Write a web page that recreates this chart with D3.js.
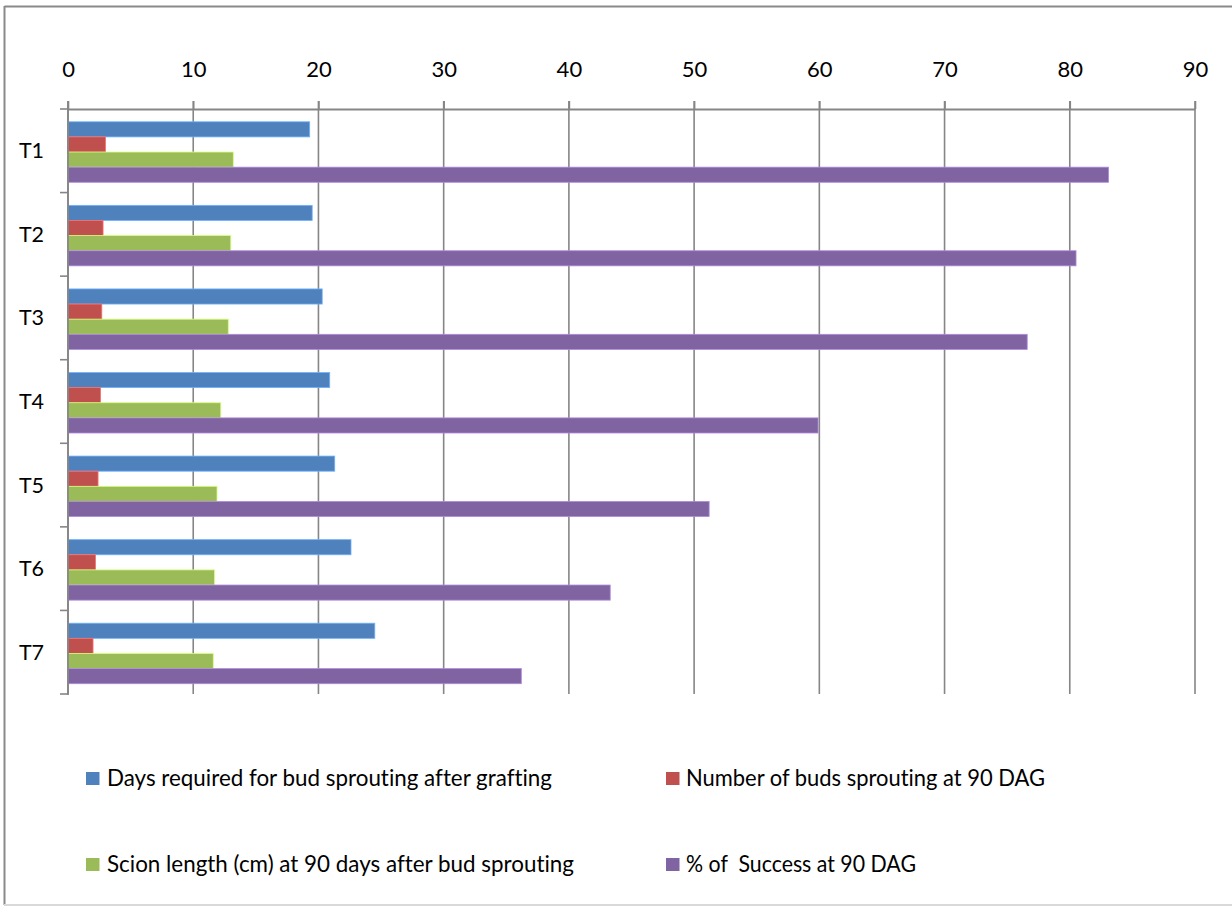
<!DOCTYPE html>
<html>
<head>
<meta charset="utf-8">
<script src="https://cdn.jsdelivr.net/npm/d3@7"></script>
<style>
  html, body { margin: 0; padding: 0; background: #fff; }
  svg { display: block; }
  text { font-family: Lato, "Open Sans", "Liberation Sans", sans-serif; fill: #000; font-variant-ligatures: none; font-feature-settings: "liga" 0, "clig" 0; }
</style>
</head>
<body>
<svg id="chart" width="1232" height="907"></svg>
<script>
const categories = ["T1", "T2", "T3", "T4", "T5", "T6", "T7"];
const xTicks = [0, 10, 20, 30, 40, 50, 60, 70, 80, 90];
const seriesNames = [
  "Days required for bud sprouting after grafting",
  "Number of buds sprouting at 90 DAG",
  "Scion length (cm) at 90 days after bud sprouting",
  "% of  Success at 90 DAG"
];
const seriesColors = ["#4F81BD", "#C0504D", "#9BBB59", "#8064A2"];
const daysToSprout = [19.3, 19.5, 20.3, 20.9, 21.3, 22.6, 24.5];
const budsSprouting = [3.0, 2.8, 2.7, 2.6, 2.4, 2.2, 2.0];
const scionLength = [13.2, 13.0, 12.8, 12.2, 11.9, 11.7, 11.6];
const successPct = [83.1, 80.5, 76.6, 59.9, 51.2, 43.3, 36.2];
const seriesValues = [daysToSprout, budsSprouting, scionLength, successPct];

const svg = d3.select("#chart");
const gridColor = "#868686";

// outer frame
svg.append("line").attr("x1", 4.5).attr("x2", 1232).attr("y1", 6.5).attr("y2", 6.5)
  .attr("stroke", "#8a8a8a").attr("stroke-width", 2);
svg.append("line").attr("x1", 4.5).attr("x2", 4.5).attr("y1", 6).attr("y2", 905)
  .attr("stroke", "#8a8a8a").attr("stroke-width", 2);
svg.append("line").attr("x1", 4).attr("x2", 1232).attr("y1", 905).attr("y2", 905)
  .attr("stroke", "#d9d9d9").attr("stroke-width", 2);

const plotLeft = 68, plotRight = 1195, plotTop = 109, plotBottom = 694;

const x = d3.scaleLinear().domain([0, 90]).range([plotLeft, plotRight]);
const y = d3.scaleBand().domain(categories).range([plotTop, plotBottom]).padding(0);
const bw = y.bandwidth();
const inner = d3.scaleBand().domain(d3.range(seriesNames.length))
  .range([bw * 0.153, bw * 0.877]).padding(0);

// vertical gridlines
svg.append("g").selectAll("line").data(xTicks).join("line")
  .attr("x1", d => x(d)).attr("x2", d => x(d))
  .attr("y1", plotTop - 8).attr("y2", plotBottom)
  .attr("stroke", gridColor).attr("stroke-width", 1.6);

// top axis
const xAxis = svg.append("g").attr("transform", `translate(0,${plotTop})`)
  .call(d3.axisTop(x).tickValues(xTicks).tickSize(8).tickSizeOuter(0).tickPadding(24));
xAxis.select(".domain").attr("stroke", gridColor).attr("stroke-width", 1.8);
xAxis.selectAll(".tick line").attr("stroke", gridColor).attr("stroke-width", 1.6);
xAxis.selectAll(".tick text").attr("font-size", 22).attr("font-family", "Lato, sans-serif").attr("fill", "#000");

// bars
const groups = svg.append("g").selectAll("g").data(categories).join("g")
  .attr("transform", d => `translate(0,${y(d)})`);
groups.selectAll("rect")
  .data((c, ci) => seriesValues.map((vals, si) => ({ si, v: vals[ci] })))
  .join("rect")
  .attr("x", x(0))
  .attr("y", d => inner(d.si))
  .attr("width", d => x(d.v) - x(0))
  .attr("height", inner.bandwidth())
  .attr("fill", d => seriesColors[d.si])
  .attr("stroke", d => d3.color(seriesColors[d.si]).brighter(0.9))
  .attr("stroke-width", 0.8);

// left axis
const yAxisG = svg.append("g");
yAxisG.append("line").attr("x1", plotLeft).attr("x2", plotLeft)
  .attr("y1", plotTop - 8).attr("y2", plotBottom + 1)
  .attr("stroke", gridColor).attr("stroke-width", 1.8);
const boundaries = categories.map(c => y(c)).concat([y(categories[categories.length - 1]) + bw]);
yAxisG.selectAll("line.tk").data(boundaries).join("line").attr("class", "tk")
  .attr("x1", plotLeft - 8).attr("x2", plotLeft)
  .attr("y1", d => d).attr("y2", d => d)
  .attr("stroke", gridColor).attr("stroke-width", 1.6);
yAxisG.selectAll("text").data(categories).join("text")
  .attr("x", 31.5)
  .attr("y", d => y(d) + bw / 2 + 7.5)
  .attr("text-anchor", "middle")
  .attr("font-size", 21.5)
  .text(d => d);

// legend
const legendCols = [86, 666];
const legendRows = [772, 858];
const legendTextWidths = [445, 359, 467, 230];
const legend = svg.append("g").selectAll("g").data(seriesNames).join("g")
  .attr("transform", (d, i) => `translate(${legendCols[i % 2]},${legendRows[Math.floor(i / 2)]})`);
legend.append("rect").attr("x", 0).attr("y", 0).attr("width", 13.5).attr("height", 13)
  .attr("fill", (d, i) => seriesColors[i]);
legend.append("text")
  .attr("x", (d, i) => i % 2 === 0 ? 21 : 20)
  .attr("y", 13.5)
  .attr("font-size", 22.5)
  .attr("textLength", (d, i) => legendTextWidths[i])
  .attr("lengthAdjust", "spacingAndGlyphs")
  .style("white-space", "pre")
  .attr("xml:space", "preserve")
  .text(d => d);
</script>
</body>
</html>
